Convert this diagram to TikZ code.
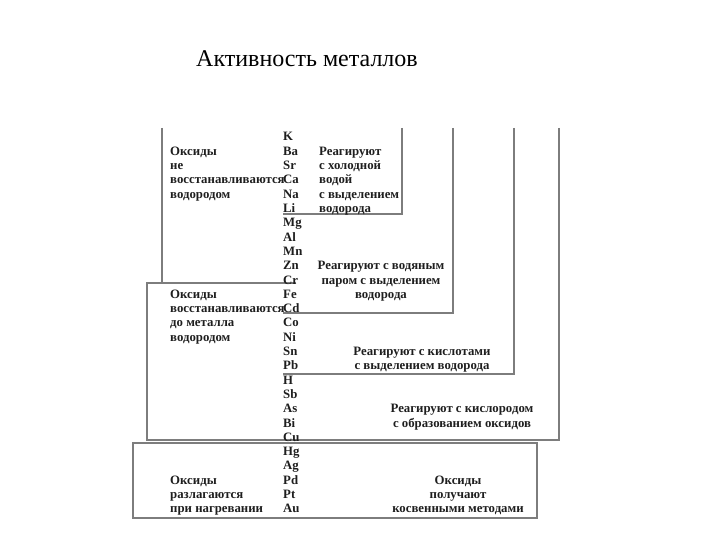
\documentclass[tikz,border=0pt]{standalone}
\usepackage{fontspec}
\setmainfont{Liberation Serif}[BoldFont={Liberation Serif Bold}]
\definecolor{linegray}{RGB}{125,125,125}
\definecolor{textcol}{RGB}{30,30,30}
\begin{document}
\begin{tikzpicture}[x=1pt,y=-1pt,
  frame/.style={draw=linegray, line width=1.3pt},
  txt/.style={font=\fontsize{12.8}{14.3}\selectfont\bfseries, text=textcol, inner sep=0pt, anchor=base west},
  ctxt/.style={txt, anchor=base},
  ttl/.style={font=\fontsize{24}{28}\selectfont, text=black, inner sep=0pt, anchor=base}]
\useasboundingbox (0,0) rectangle (720,540);
\node[ttl] (title) at (307,67) {Активность металлов};
% frames
\draw[frame] (162,128) -- (162,283);
\draw[frame] (402,128) -- (402,214) -- (283,214);
\draw[frame] (453,128) -- (453,313) -- (283,313);
\draw[frame] (514,128) -- (514,374) -- (283,374);
\draw[frame] (559,128) -- (559,440) -- (147,440) -- (147,283) -- (296,283);
\draw[frame] (133,443) rectangle (537,518);
% elements
\foreach \e [count=\i from 0] in {K,Ba,Sr,Ca,Na,Li,Mg,Al,Mn,Zn,Cr,Fe,Cd,Co,Ni,Sn,Pb,H,Sb,As,Bi,Cu,Hg,Ag,Pd,Pt,Au}
  \node[txt] (el-\e) at (283,{141+14.3*\i}) {\e};
% left block 1
\foreach \t [count=\i from 1] in {Оксиды,не,восстанавливаются,водородом}
  \node[txt] (a\i) at (170,{141+14.3*\i}) {\t};
% box 1
\foreach \t [count=\i from 1] in {Реагируют,с холодной,водой,с выделением,водорода}
  \node[txt] (b\i) at (319,{141+14.3*\i}) {\t};
% box 2
\foreach \t [count=\i from 9] in {Реагируют с водяным,паром с выделением,водорода}
  \node[ctxt] (c\i) at (381,{141+14.3*\i}) {\t};
% left block 2
\foreach \t [count=\i from 11] in {Оксиды,восстанавливаются,до металла,водородом}
  \node[txt] (d\i) at (170,{141+14.3*\i}) {\t};
% box 3
\foreach \t [count=\i from 15] in {Реагируют с кислотами,с выделением водорода}
  \node[ctxt] (e\i) at (422,{141+14.3*\i}) {\t};
% box 4
\foreach \t [count=\i from 19] in {Реагируют с кислородом,с образованием оксидов}
  \node[ctxt] (f\i) at (462,{141+14.3*\i}) {\t};
% bottom box
\foreach \t [count=\i from 24] in {Оксиды,разлагаются,при нагревании}
  \node[txt] (g\i) at (170,{141+14.3*\i}) {\t};
\foreach \t [count=\i from 24] in {Оксиды,получают,косвенными методами}
  \node[ctxt] (h\i) at (458,{141+14.3*\i}) {\t};
\end{tikzpicture}
\end{document}
